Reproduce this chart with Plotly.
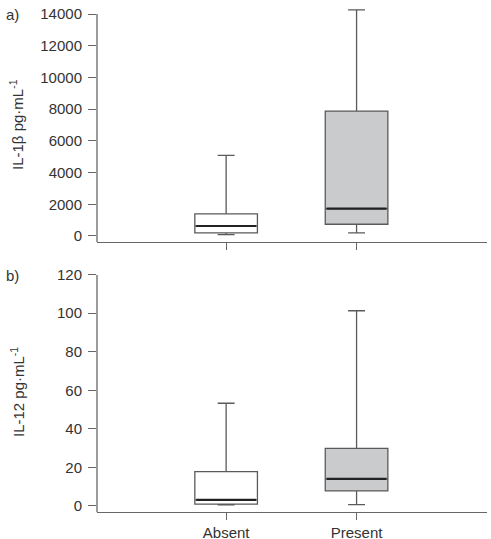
import plotly.graph_objects as go

categories = ["Absent", "Present"]

# Panel a) IL-1beta pg/mL
il1b_lower = [90, 200]
il1b_q1 = [190, 740]
il1b_median = [630, 1720]
il1b_q3 = [1390, 7880]
il1b_upper = [5080, 14260]

# Panel b) IL-12 pg/mL
il12_lower = [0.6, 0.7]
il12_q1 = [0.9, 7.8]
il12_median = [3.1, 14.0]
il12_q3 = [17.8, 29.9]
il12_upper = [53.3, 101.3]

il1b_ticks = [0, 2000, 4000, 6000, 8000, 10000, 12000, 14000]
il12_ticks = [0, 20, 40, 60, 80, 100, 120]

fills = ["#ffffff", "#c9cbcc"]
edge = "#5a5a5a"
W, H = 491, 539
FONT = "Liberation Sans, Arial, sans-serif"

fig = go.Figure()

panels = [
    ("x", "y", il1b_lower, il1b_q1, il1b_median, il1b_q3, il1b_upper),
    ("x2", "y2", il12_lower, il12_q1, il12_median, il12_q3, il12_upper),
]
for xa, ya, lo, q1, med, q3, up in panels:
    for i, cat in enumerate(categories):
        fig.add_trace(go.Box(
            x=[i], q1=[q1[i]], median=[med[i]], q3=[q3[i]],
            lowerfence=[lo[i]], upperfence=[up[i]],
            width=0.48, whiskerwidth=0.27,
            fillcolor=fills[i], line=dict(color=edge, width=1.3),
            xaxis=xa, yaxis=ya, showlegend=False, boxpoints=False,
            hoverinfo="skip",
        ))
        # darker median line
        fig.add_trace(go.Box(
            x=[i], q1=[med[i]], median=[med[i]], q3=[med[i]],
            lowerfence=[med[i]], upperfence=[med[i]],
            width=0.46, whiskerwidth=0,
            fillcolor="rgba(0,0,0,0)", line=dict(color="#222222", width=2.2),
            xaxis=xa, yaxis=ya, showlegend=False, boxpoints=False,
            hoverinfo="skip",
        ))

xdom = [97 / W, 487 / W]
xcommon = dict(
    range=[-0.99, 2.0], domain=xdom, tickmode="array", tickvals=[0, 1],
    showline=True, linecolor="#666666", linewidth=1.3, ticks="outside",
    ticklen=7, tickcolor="#666666", showgrid=False, zeroline=False,
    automargin=False,
)
ycommon = dict(
    showline=False, ticks="outside",
    ticklen=8, tickcolor="#666666", showgrid=False, zeroline=False,
    tickfont=dict(size=15, color="#333333", family=FONT),
    ticklabelstandoff=3,
    automargin=False,
)

y1_range = [-380, 14000 * (236 - 9) / 222]
y2_range = [-3.3, 120]

fig.update_layout(
    width=W, height=H,
    margin=dict(l=0, r=0, t=0, b=0),
    paper_bgcolor="white", plot_bgcolor="white",
    boxmode="overlay",
    font=dict(family=FONT, color="#333333"),
    xaxis=dict(**xcommon, anchor="y", showticklabels=False),
    yaxis=dict(**ycommon, anchor="x", range=y1_range,
               domain=[1 - 242 / H, 1 - 9 / H],
               tickvals=il1b_ticks, ticktext=[str(t) for t in il1b_ticks]),
    xaxis2=dict(**xcommon, anchor="y2", ticktext=categories,
                tickfont=dict(size=15, color="#333333", family=FONT)),
    yaxis2=dict(**ycommon, anchor="x2", range=y2_range,
                domain=[1 - 512.3 / H, 1 - 274.7 / H],
                tickvals=il12_ticks),
    shapes=[
        dict(type="line", xref="x domain", yref="y", x0=0, x1=0,
             y0=y1_range[0], y1=max(il1b_ticks),
             line=dict(color="#666666", width=1.3)),
        dict(type="line", xref="x2 domain", yref="y2", x0=0, x1=0,
             y0=y2_range[0], y1=max(il12_ticks),
             line=dict(color="#666666", width=1.3)),
    ],
    annotations=[
        dict(text="a)", x=4 / W, y=1 - 14 / H, xref="paper", yref="paper",
             xanchor="left", yanchor="middle", showarrow=False,
             font=dict(size=15, color="#333333")),
        dict(text="b)", x=4 / W, y=1 - 275 / H, xref="paper", yref="paper",
             xanchor="left", yanchor="middle", showarrow=False,
             font=dict(size=15, color="#333333")),
        dict(text="IL-1β pg·mL<sup>-1</sup>", x=17 / W, y=1 - 125 / H,
             xref="paper", yref="paper", textangle=-90,
             xanchor="center", yanchor="middle", showarrow=False,
             font=dict(size=15, color="#333333")),
        dict(text="IL-12 pg·mL<sup>-1</sup>", x=17 / W, y=1 - 392 / H,
             xref="paper", yref="paper", textangle=-90,
             xanchor="center", yanchor="middle", showarrow=False,
             font=dict(size=15, color="#333333")),
    ],
)

fig.write_html("out.html")
